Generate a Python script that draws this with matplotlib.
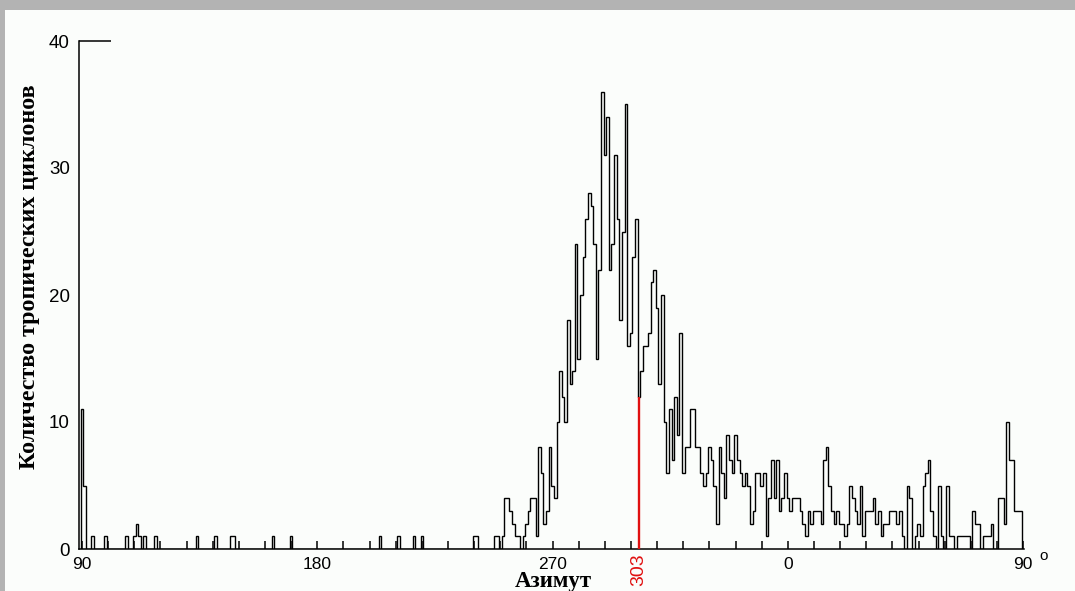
import numpy as np
import matplotlib
matplotlib.use('Agg')
import matplotlib.pyplot as plt
from matplotlib.patches import Rectangle

# tropical cyclones per 1 degree of azimuth, read in the order 90 -> 180 -> 270 -> 0 -> 90
counts_090_179 = [11, 5, 0, 0, 1, 0, 0, 0, 0, 1,
                  0, 0, 0, 0, 0, 0, 0, 1, 0, 0,
                  1, 2, 1, 0, 1, 0, 0, 0, 1, 0,
                  0, 0, 0, 0, 0, 0, 0, 0, 0, 0,
                  0, 0, 0, 0, 1, 0, 0, 0, 0, 0,
                  0, 1, 0, 0, 0, 0, 0, 1, 1, 0,
                  0, 0, 0, 0, 0, 0, 0, 0, 0, 0,
                  0, 0, 0, 1, 0, 0, 0, 0, 0, 0,
                  1, 0, 0, 0, 0, 0, 0, 0, 0, 0]
counts_180_269 = [0, 0, 0, 0, 0, 0, 0, 0, 0, 0,
                  0, 0, 0, 0, 0, 0, 0, 0, 0, 0,
                  0, 0, 0, 0, 1, 0, 0, 0, 0, 0,
                  0, 1, 0, 0, 0, 0, 0, 1, 0, 0,
                  1, 0, 0, 0, 0, 0, 0, 0, 0, 0,
                  0, 0, 0, 0, 0, 0, 0, 0, 0, 0,
                  1, 1, 0, 0, 0, 0, 0, 0, 1, 1,
                  0, 1, 4, 4, 3, 2, 1, 1, 0, 1,
                  2, 3, 4, 4, 1, 8, 6, 2, 3, 8]
counts_270_359 = [5, 4, 10, 14, 12, 10, 18, 13, 14, 24,
                  15, 20, 23, 26, 28, 27, 24, 15, 22, 36,
                  31, 34, 22, 24, 31, 26, 18, 25, 35, 16,
                  17, 23, 26, 12, 14, 16, 16, 17, 21, 22,
                  19, 13, 20, 10, 6, 11, 7, 12, 9, 17,
                  6, 8, 8, 11, 11, 8, 8, 6, 5, 6,
                  8, 7, 5, 2, 8, 6, 4, 9, 7, 6,
                  9, 7, 6, 5, 6, 5, 2, 3, 6, 6,
                  5, 6, 1, 4, 7, 4, 7, 3, 4, 6]
counts_000_089 = [4, 3, 4, 4, 4, 3, 2, 1, 3, 2,
                  3, 3, 3, 2, 7, 8, 5, 3, 2, 3,
                  2, 2, 1, 2, 5, 4, 3, 2, 5, 1,
                  3, 3, 3, 4, 2, 3, 1, 2, 2, 3,
                  3, 3, 2, 3, 1, 0, 5, 4, 0, 1,
                  2, 1, 5, 6, 7, 3, 1, 0, 5, 1,
                  0, 5, 1, 1, 0, 1, 1, 1, 1, 1,
                  0, 3, 2, 2, 0, 1, 1, 1, 2, 0,
                  0, 4, 4, 2, 10, 7, 7, 3, 3, 3]

mean_azimuth = 303
mean_height = 12

xtick_pos = [90, 180, 270, 360, 450]
xtick_labels = ['90', '180', '270', '0', '90']
ytick_pos = [0, 10, 20, 30, 40]

counts = np.array(counts_090_179 + counts_180_269 + counts_270_359 + counts_000_089)
# one bin per degree, centred on 90, 91, ... 449
edges = np.arange(len(counts) + 1) + 89.5

W, H = 1075, 591
fig = plt.figure(figsize=(W / 100, H / 100), dpi=100, facecolor='#b3b3b3')
fig.patches.append(Rectangle((5 / W, 0), 1, 1 - 10 / H, transform=fig.transFigure,
                             facecolor='#fbfdfb', edgecolor='none', zorder=-5))

ax = fig.add_axes([79 / W, (H - 549) / H, (1024 - 79) / W, (549 - 41) / H])
ax.set_facecolor('none')

ax.stairs(counts, edges, baseline=0, color='black', lw=1.0)
ax.vlines(mean_azimuth, 0, mean_height, color='#e01010', lw=1.7, zorder=3)
ax.hlines(40, 88.85, 101, color='black', lw=1.1, clip_on=False)

ax.set_xlim(88.85, 450.3)
ax.set_ylim(0, 40)

for s in ['top', 'right']:
    ax.spines[s].set_visible(False)
for s in ['left', 'bottom']:
    ax.spines[s].set_linewidth(1.1)

ax.set_xticks(xtick_pos, xtick_labels, fontsize=12.5, family='Liberation Sans')
ax.set_xticks(np.arange(90, 451, 10), minor=True)
ax.tick_params(axis='x', which='both', direction='in', length=6, width=1.1, pad=5.5)
ax.set_yticks(ytick_pos)
ax.set_yticklabels([str(v) for v in ytick_pos], fontsize=13.5, family='Liberation Sans')
ax.tick_params(axis='y', length=0, pad=6.5)

ax.text(mean_azimuth, -0.008, str(mean_azimuth), transform=ax.get_xaxis_transform(),
        rotation=90, ha='center', va='top', color='#e01010', fontsize=14,
        family='Liberation Sans')

fig.text(30 / W, 1 - 277 / H, 'Количество тропических циклонов', rotation=90,
         ha='center', va='center', family='Liberation Serif', weight='bold', fontsize=17.3)
fig.text(553 / W, 1 - 587 / H, 'Азимут', ha='center', va='baseline',
         family='Liberation Serif', weight='bold', fontsize=16.5)
fig.text(1044 / W, 1 - 556 / H, 'o', ha='center', va='center', fontsize=11,
         family='Liberation Sans')

fig.savefig('out.png', dpi=100)
